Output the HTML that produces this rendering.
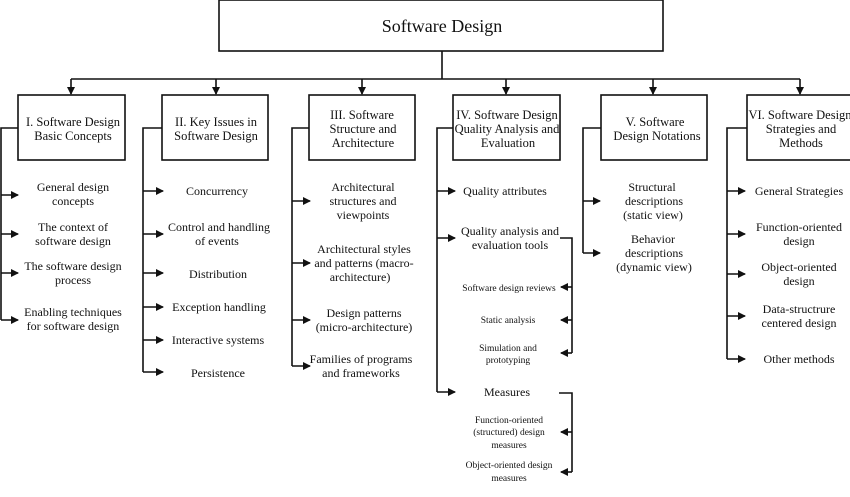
<!DOCTYPE html>
<html><head><meta charset="utf-8"><style>
body{margin:0;background:#fff;width:850px;height:492px;overflow:hidden}
svg text{font-family:"Liberation Serif",serif;fill:#111}
</style></head><body>
<svg width="850" height="492" viewBox="0 0 850 492" xmlns="http://www.w3.org/2000/svg">
<defs><marker id="a" markerWidth="8" markerHeight="8" refX="7" refY="4" orient="auto" markerUnits="userSpaceOnUse"><path d="M0,0 L8,4 L0,8 z" fill="#111"/></marker></defs>
<g stroke="#111" stroke-width="1.6" fill="none">
<rect x="219" y="0" width="444" height="51"/>
<path d="M442 51 V79 M71 79 H800"/>
<g marker-end="url(#a)">
<path d="M71 79V94"/><path d="M216 79V94"/><path d="M362 79V94"/><path d="M506 79V94"/><path d="M653 79V94"/><path d="M800 79V94"/>
</g>
<rect x="18" y="95" width="107" height="65"/>
<rect x="162" y="95" width="106" height="65"/>
<rect x="309" y="95" width="106" height="65"/>
<rect x="453" y="95" width="107" height="65"/>
<rect x="601" y="95" width="106" height="65"/>
<rect x="747" y="95" width="106" height="65"/>
<path d="M18 128H1V320 M162 128H143V372 M309 128H292V366 M453 128H437V392 M601 128H583V253 M747 128H727V359"/>
<g marker-end="url(#a)">
<path d="M1 195H18"/><path d="M1 234H18"/><path d="M1 273H18"/><path d="M1 320H18"/>
<path d="M143 191H163"/><path d="M143 234H163"/><path d="M143 273H163"/><path d="M143 307H163"/><path d="M143 340H163"/><path d="M143 372H163"/>
<path d="M292 201H310"/><path d="M292 263H310"/><path d="M292 320H310"/><path d="M292 366H310"/>
<path d="M437 191H455"/><path d="M437 238H455"/><path d="M437 392H455"/>
<path d="M583 201H600"/><path d="M583 253H600"/>
<path d="M727 191H745"/><path d="M727 234H745"/><path d="M727 274H745"/><path d="M727 316H745"/><path d="M727 359H745"/>
<path d="M572 287H561"/><path d="M572 320H561"/><path d="M572 353H561"/><path d="M572 432H561"/><path d="M572 472H561"/>
</g>
<path d="M560 238H572V353 M559 393H572V472"/>
</g>
<g font-size="18" text-anchor="middle"><text x="442" y="32">Software Design</text></g>
<g font-size="12.5" text-anchor="middle">
<text x="73" y="126">I. Software Design</text><text x="73" y="140">Basic Concepts</text>
<text x="216" y="126">II. Key Issues in</text><text x="216" y="140">Software Design</text>
<text x="362" y="119">III. Software</text><text x="363" y="133">Structure and</text><text x="363" y="147">Architecture</text>
<text x="507" y="119">IV. Software Design</text><text x="507" y="133">Quality Analysis and</text><text x="508" y="147">Evaluation</text>
<text x="655" y="126">V. Software</text><text x="657" y="140">Design Notations</text>
<text x="800" y="119">VI. Software Design</text><text x="801" y="133">Strategies and</text><text x="801" y="147">Methods</text>
</g>
<g font-size="12" text-anchor="middle">
<text x="73" y="191">General design</text><text x="73" y="205">concepts</text>
<text x="73" y="231">The context of</text><text x="73" y="245">software design</text>
<text x="73" y="270">The software design</text><text x="73" y="284">process</text>
<text x="73" y="316">Enabling techniques</text><text x="73" y="330">for software design</text>
<text x="217" y="195">Concurrency</text>
<text x="219" y="231">Control and handling</text><text x="217" y="245">of events</text>
<text x="218" y="278">Distribution</text>
<text x="219" y="311">Exception handling</text>
<text x="218" y="344">Interactive systems</text>
<text x="218" y="377">Persistence</text>
<text x="363" y="191">Architectural</text><text x="363" y="205">structures and</text><text x="363" y="219">viewpoints</text>
<text x="364" y="253">Architectural styles</text><text x="364" y="267">and patterns (macro-</text><text x="360" y="281">architecture)</text>
<text x="364" y="317">Design patterns</text><text x="364" y="331">(micro-architecture)</text>
<text x="361" y="363">Families of programs</text><text x="361" y="377">and frameworks</text>
<text x="505" y="195">Quality attributes</text>
<text x="510" y="235">Quality analysis and</text><text x="510" y="249">evaluation tools</text>
<text x="507" y="396">Measures</text>
<text x="652" y="191">Structural</text><text x="654" y="205">descriptions</text><text x="653" y="219">(static view)</text>
<text x="653" y="243">Behavior</text><text x="654" y="257">descriptions</text><text x="654" y="271">(dynamic view)</text>
<text x="799" y="195">General Strategies</text>
<text x="799" y="231">Function-oriented</text><text x="799" y="245">design</text>
<text x="799" y="271">Object-oriented</text><text x="799" y="285">design</text>
<text x="799" y="313">Data-structrure</text><text x="799" y="327">centered design</text>
<text x="799" y="363">Other methods</text>
</g>
<g font-size="9.5" text-anchor="middle">
<text x="509" y="291">Software design reviews</text>
<text x="508" y="323">Static analysis</text>
<text x="508" y="351">Simulation and</text><text x="508" y="363">prototyping</text>
<text x="509" y="423">Function-oriented</text><text x="509" y="435">(structured) design</text><text x="509" y="448">measures</text>
<text x="509" y="468">Object-oriented design</text><text x="509" y="481">measures</text>
</g>
</svg>
</body></html>
